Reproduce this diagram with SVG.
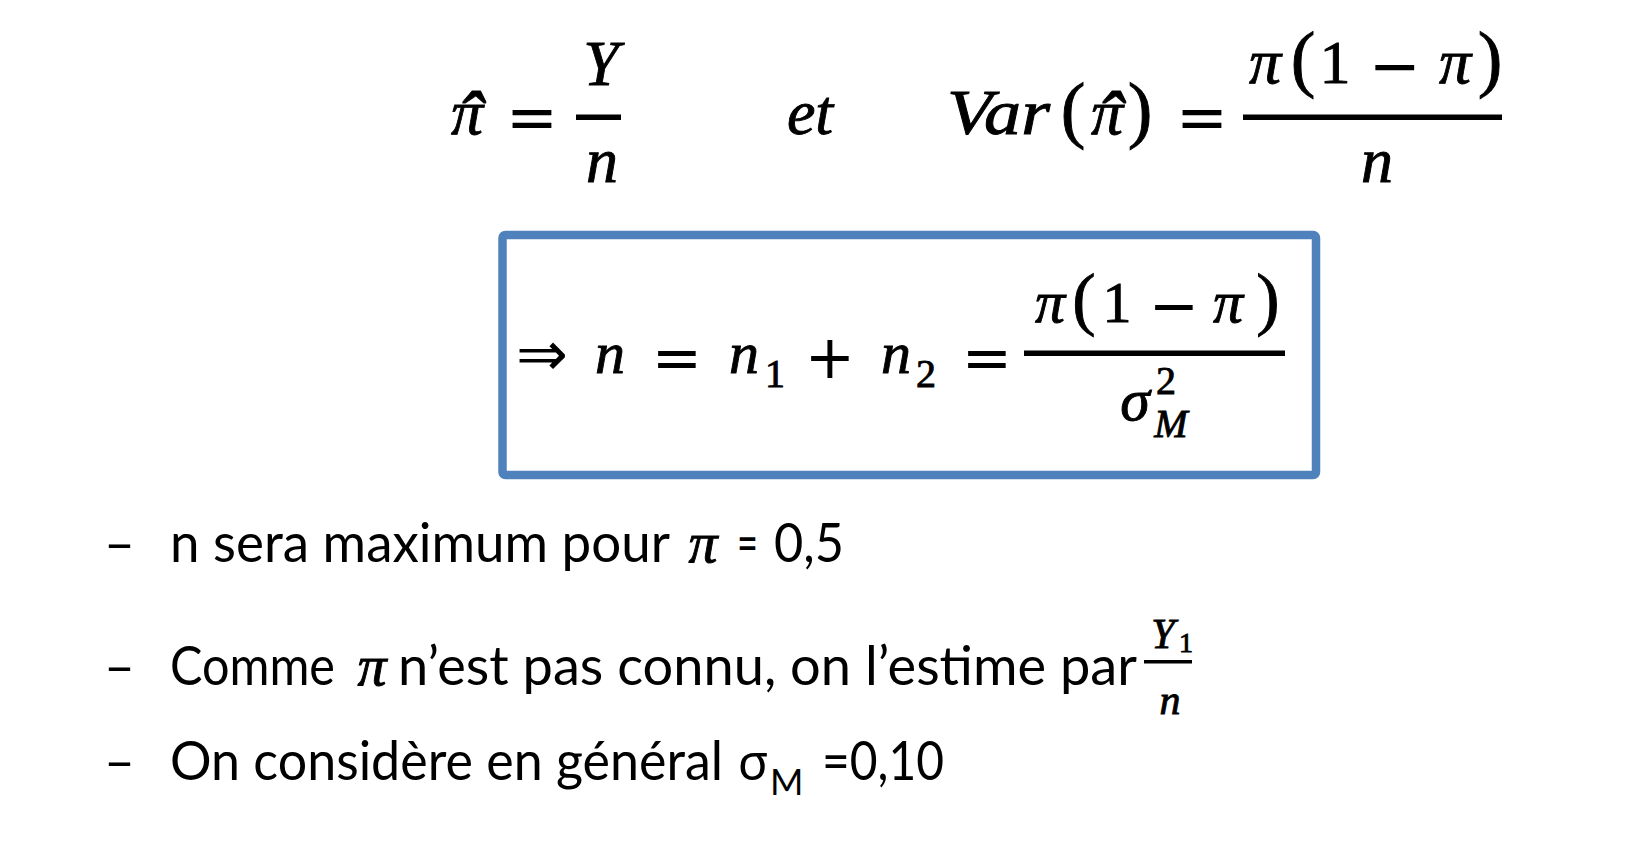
<svg xmlns="http://www.w3.org/2000/svg" width="1642" height="856" viewBox="0 0 1642 856">
<style>
.m{font-family:"Liberation Serif","Times New Roman",serif;fill:#000;stroke:#000;stroke-width:0.9}
.i{font-style:italic}
.c{text-anchor:middle}
.op{font-family:"DejaVu Sans",sans-serif;fill:#000;text-anchor:middle}
.t{font-family:Lato,"Open Sans","Liberation Sans",sans-serif;font-size:54px;fill:#000}
.bar{fill:#000}
</style>
<rect width="1642" height="856" fill="#fff"/>
<g id="formula-top">
  <g id="pi-hat-def">
    <text class="m i" x="451" y="134" font-size="64">π<tspan class="m" dx="-27" dy="13" font-size="80">ˆ</tspan></text>
    <text class="op" x="532" y="139" font-size="62">=</text>
    <text class="m i c" x="601" y="85" font-size="64">Y</text>
    <rect class="bar" x="576" y="114.5" width="45" height="5.5"/>
    <text class="m i c" x="602" y="182" font-size="64">n</text>
  </g>
  <text id="et" class="m i c" x="810" y="134" font-size="64">et</text>
  <g id="var-def">
    <text class="m i" x="947" y="134" font-size="64" textLength="103" lengthAdjust="spacingAndGlyphs">Var</text>
    <text class="m c" x="1073" y="134" font-size="74">(</text>
    <text class="m i" x="1091" y="134" font-size="64">π<tspan class="m" dx="-27" dy="13" font-size="80">ˆ</tspan></text>
    <text class="m c" x="1140" y="134" font-size="74">)</text>
    <text class="op" x="1202" y="139" font-size="62">=</text>
    <text class="m i c" x="1265" y="83" font-size="64">π</text>
    <text class="m c" x="1303" y="83" font-size="74">(</text>
    <text class="m c" x="1335" y="83" font-size="62">1</text>
    <text class="op" x="1395" y="87" font-size="62">−</text>
    <text class="m i c" x="1455" y="83" font-size="64">π</text>
    <text class="m c" x="1490" y="83" font-size="74">)</text>
    <rect class="bar" x="1243" y="114.5" width="259" height="5.5"/>
    <text class="m i c" x="1377" y="182" font-size="64">n</text>
  </g>
</g>
<g id="boxed-formula">
  <rect x="502.5" y="235" width="813.5" height="240" rx="3" fill="none" stroke="#4F81BD" stroke-width="8.5"/>
  <text class="op" x="542" y="375" font-size="62">⇒</text>
  <text class="m i c" x="610" y="373" font-size="60">n</text>
  <text class="op" x="677" y="378" font-size="60">=</text>
  <text class="m i c" x="744" y="373" font-size="60">n</text>
  <text class="m c" x="775" y="387" font-size="40">1</text>
  <text class="op" x="830" y="378" font-size="60">+</text>
  <text class="m i c" x="896" y="373" font-size="60">n</text>
  <text class="m c" x="926" y="387" font-size="40">2</text>
  <text class="op" x="987" y="378" font-size="60">=</text>
  <text class="m i c" x="1050" y="322" font-size="60">π</text>
  <text class="m c" x="1084" y="322" font-size="70">(</text>
  <text class="m c" x="1117" y="322" font-size="58">1</text>
  <text class="op" x="1174" y="326" font-size="60">−</text>
  <text class="m i c" x="1228" y="322" font-size="60">π</text>
  <text class="m c" x="1268" y="322" font-size="70">)</text>
  <rect class="bar" x="1024" y="350.5" width="261" height="5.5"/>
  <text class="m i c" x="1135" y="420" font-size="60">σ</text>
  <text class="m c" x="1166" y="394" font-size="40">2</text>
  <text class="m i c" x="1171" y="437" font-size="40">M</text>
</g>
<g id="bullet-1">
  <text class="t" x="104" y="562" textLength="31" lengthAdjust="spacingAndGlyphs">–</text>
  <text class="t" x="170" y="562" textLength="500" lengthAdjust="spacingAndGlyphs">n sera maximum pour</text>
  <text class="m i c" x="703" y="562" font-size="58">π</text>
  <text class="t" x="737" y="562" textLength="21" lengthAdjust="spacingAndGlyphs">=</text>
  <text class="t" x="774" y="562" textLength="70" lengthAdjust="spacingAndGlyphs">0,5</text>
</g>
<g id="bullet-2">
  <text class="t" x="104" y="685" textLength="31" lengthAdjust="spacingAndGlyphs">–</text>
  <text class="t" x="170" y="685" textLength="165" lengthAdjust="spacingAndGlyphs">Comme</text>
  <text class="m i c" x="372" y="685" font-size="58">π</text>
  <text class="t" x="398" y="685" textLength="739" lengthAdjust="spacingAndGlyphs">n’est pas connu, on l’estime par</text>
  <text class="m i c" x="1163" y="648" font-size="42">Y</text>
  <text class="m c" x="1186" y="652" font-size="28">1</text>
  <rect class="bar" x="1144" y="660" width="48" height="3.5"/>
  <text class="m i c" x="1170" y="714" font-size="42">n</text>
</g>
<g id="bullet-3">
  <text class="t" x="104" y="780" textLength="31" lengthAdjust="spacingAndGlyphs">–</text>
  <text class="t" x="170" y="780" textLength="553" lengthAdjust="spacingAndGlyphs">On considère en général</text>
  <text x="753" y="780" font-size="50" text-anchor="middle" font-family="Noto Sans,DejaVu Sans,sans-serif">σ</text>
  <text class="t" x="770" y="795" style="font-size:36px">M</text>
  <text class="t" x="822" y="780" textLength="122" lengthAdjust="spacingAndGlyphs">=0,10</text>
</g>
<g id="connectors"/>
</svg>
